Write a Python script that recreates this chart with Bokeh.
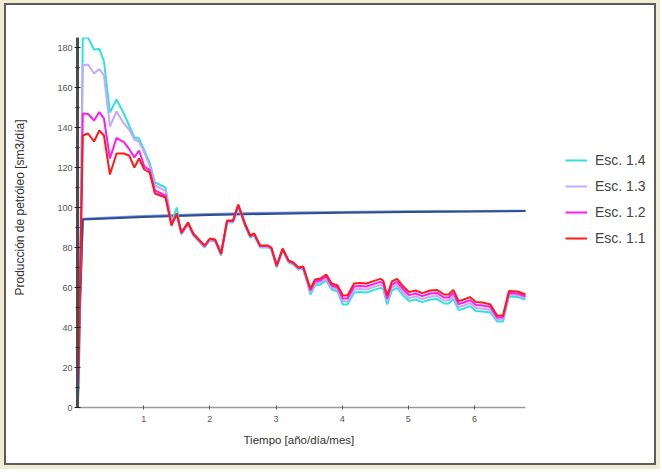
from bokeh.plotting import figure
from bokeh.models import (Range1d, SingleIntervalTicker, FixedTicker, Legend,
                          LegendItem, Title)
from bokeh.embed import file_html
from bokeh.resources import INLINE

# ---- data ----
t = [0.00, 0.02, 0.08, 0.16, 0.25, 0.33, 0.40, 0.49, 0.59, 0.70,
     0.78, 0.86, 0.93, 1.01, 1.09, 1.17, 1.33, 1.42, 1.50, 1.57,
     1.67, 1.75, 1.82, 1.92, 2.00, 2.08, 2.17, 2.26, 2.35, 2.43,
     2.53, 2.61, 2.67, 2.76, 2.88, 2.93, 3.01, 3.10, 3.19, 3.26,
     3.34, 3.41, 3.52, 3.59, 3.67, 3.76, 3.84, 3.93, 4.01, 4.08,
     4.18, 4.27, 4.37, 4.47, 4.58, 4.62, 4.68, 4.75, 4.83, 4.93,
     5.01, 5.11, 5.21, 5.33, 5.43, 5.54, 5.61, 5.68, 5.76, 5.84,
     5.93, 6.02, 6.12, 6.24, 6.34, 6.43, 6.52, 6.65, 6.77]

esc_11 = [0, 28, 136, 137, 133, 138.5, 136, 116.5, 127, 127,
          126, 120, 124.5, 119, 117.5, 107, 105, 91, 97, 87.5,
          92.5, 87, 84.5, 81, 84.5, 84, 77, 93.5, 93.5, 101.5,
          92, 86, 87, 81, 81, 80, 71, 79.5, 73.5, 72.5,
          70, 70.5, 59.5, 64, 64.5, 66.5, 62, 61, 56, 56,
          62, 62.3, 62, 63.2, 64.3, 63.5, 56, 63, 64.3, 60.2,
          57.7, 58.5, 57.2, 58.5, 58.8, 56.5, 56.5, 58.8, 53.2, 54,
          55.2, 52.7, 52.5, 51.5, 46, 46, 58.2, 58, 56.5]

esc_12 = [0, 20, 147, 146.8, 143.5, 147.7, 144.5, 124.5, 134.8, 132.7,
          129.3, 125, 128.5, 120.5, 118.8, 108.5, 106, 91.5, 96.7, 87.2,
          92.2, 86.7, 84.2, 80.7, 84.2, 83.7, 76.7, 93.2, 93.2, 101.2,
          91.7, 85.7, 86.7, 80.7, 80.7, 79.7, 70.7, 79.2, 73.2, 72.2,
          69.7, 70.2, 58.5, 63, 63.5, 65.5, 61, 60, 54.5, 54.5,
          60.5, 60.8, 60.5, 61.7, 62.8, 62, 54.5, 61.5, 62.8, 58.7,
          56.2, 57, 55.7, 57, 57.3, 55, 55, 57.3, 51.7, 52.5,
          53.7, 51.2, 51, 50.3, 45, 45, 57.2, 57, 55.5]

esc_13 = [0, 15, 171, 171.5, 167, 169.2, 166, 140.5, 148, 142,
          139, 134, 133, 127.5, 121, 111, 108.3, 93, 96.4, 86.9,
          91.9, 86.4, 83.9, 80.4, 83.9, 83.4, 76.4, 92.9, 92.9, 100.9,
          91.4, 85.4, 86.4, 80.4, 80.4, 79.4, 70.4, 78.9, 72.9, 71.9,
          69.4, 69.9, 57.5, 62, 62.5, 64.5, 60, 59, 53, 53,
          59, 59.3, 59, 60.2, 61.3, 60.5, 53, 60, 61.3, 57.2,
          54.7, 55.5, 54.2, 55.5, 55.8, 53.5, 53.5, 55.8, 50.2, 51,
          52.2, 49.7, 49.5, 48.7, 44, 44, 56.5, 56.2, 54.8]

esc_14 = [0, 10, 184.8, 185, 179, 179.3, 173, 147.5, 154, 147,
          141, 135, 134.5, 128.5, 122.5, 112.5, 110, 93, 100, 86.5,
          91.5, 86, 83.5, 80, 83.5, 83, 76, 92.5, 92.5, 100.5,
          91, 85, 86, 80, 80, 79, 70, 78.5, 72.5, 71.5,
          69, 69.5, 56.5, 61, 61.5, 63.5, 59, 58, 51.5, 51.5,
          57.5, 57.8, 57.5, 58.7, 59.8, 59, 51.5, 58.5, 59.8, 55.7,
          53.2, 54, 52.7, 54, 54.3, 52, 52, 54.3, 48.7, 49.5,
          50.7, 48.2, 48, 47.5, 43, 43, 55.5, 55.2, 54]

blue_t = [0.0, 0.02, 0.08, 1.0, 2.0, 3.0, 4.0, 5.0, 6.0, 6.77]
blue_dark = [0, 35, 94.0, 95.2, 96.2, 96.9, 97.4, 97.8, 98.0, 98.2]
blue_light = [0, 30, 94.4, 95.8, 96.8, 97.4, 97.8, 98.1, 98.3, 98.4]

x_ticks = [1, 2, 3, 4, 5, 6]
x_axis_end = 6.77
y_axis_end = 185
series_labels = ["Esc. 1.4", "Esc. 1.3", "Esc. 1.2", "Esc. 1.1"]
series_colors = ["#2fe3dc", "#c6a6ff", "#ff1cf0", "#ff1a1a"]
y_title = "Producción de petróleo [sm3/día]"
x_title = "Tiempo [año/día/mes]"

FONT = "Liberation Sans"

# layout (pixels)
W, H = 652, 462
B_LEFT, B_RIGHT, B_TOP, B_BOTTOM = 71, 8, 32, 60
AXIS_PX = 448                      # drawn length of the x axis
frame_w = W - B_LEFT - B_RIGHT
x_end = x_axis_end * frame_w / AXIS_PX   # frame extends past the axis for the legend

p = figure(width=W, height=H, output_backend="svg", toolbar_location=None,
           x_range=Range1d(0, x_end), y_range=Range1d(0, y_axis_end),
           min_border_left=B_LEFT, min_border_right=B_RIGHT,
           min_border_top=B_TOP, min_border_bottom=B_BOTTOM)
p.styles = {"border": "2px solid #5c5c5c",
            "box-shadow": "0 0 0 4px #f2ead3",
            "margin": "3px 0 0 4px"}
p.background_fill_color = "white"
p.border_fill_color = "white"
p.outline_line_color = None
p.xgrid.visible = False
p.ygrid.visible = False

# blue reference lines
p.line(blue_t, blue_light, line_color="#6f90dc", line_width=2)
p.line(blue_t, blue_dark, line_color="#2f4d90", line_width=2)

renderers = []
for data, col in zip([esc_14, esc_13, esc_12, esc_11], series_colors):
    r = p.line(t, data, line_color=col, line_width=2)
    renderers.append(r)

legend = Legend(items=[LegendItem(label=lab, renderers=[r])
                       for lab, r in zip(series_labels, renderers)],
                location=(488, 160), padding=0, margin=0, spacing=8,
                glyph_height=18, glyph_width=22, label_height=18,
                label_standoff=8, border_line_color=None,
                background_fill_alpha=0,
                label_text_font=FONT, label_text_font_size="14px",
                label_text_color="#444444")
p.add_layout(legend)

# y axis
ya = p.yaxis[0]
ya.ticker = SingleIntervalTicker(interval=20, num_minor_ticks=2)
ya.axis_line_width = 3
ya.axis_line_color = "#4d4d4d"
ya.major_tick_in = 3
ya.major_tick_out = 3
ya.minor_tick_in = 2
ya.minor_tick_out = 2
ya.major_tick_line_color = "#222222"
ya.minor_tick_line_color = "#222222"
ya.major_label_text_font = FONT
ya.major_label_text_font_size = "9px"
ya.major_label_text_color = "#555555"
ya.major_label_standoff = 2
# leading no-break spaces lift the title a little above the frame centre
ya.axis_label = "\u00a0" * 9 + y_title
ya.axis_label_text_font = FONT
ya.axis_label_text_font_size = "12px"
ya.axis_label_text_font_style = "normal"
ya.axis_label_text_color = "#333333"
ya.axis_label_standoff = 27

# x axis (drawn only over the data span)
xa = p.xaxis[0]
xa.bounds = (0, x_axis_end)
xa.ticker = FixedTicker(ticks=x_ticks, minor_ticks=[])
xa.axis_line_width = 1.5
xa.axis_line_color = "#9a9a9a"
xa.major_tick_in = 2
xa.major_tick_out = 2
xa.major_tick_line_color = "#555555"
xa.major_label_text_font = FONT
xa.major_label_text_font_size = "9px"
xa.major_label_text_color = "#555555"
xa.major_label_standoff = 6

xt = Title(text=x_title, align="left", offset=166, standoff=15,
           text_font=FONT, text_font_size="11.5px", text_font_style="normal",
           text_color="#333333")
p.add_layout(xt, "below")

open("out.html", "w").write(file_html(p, INLINE))
